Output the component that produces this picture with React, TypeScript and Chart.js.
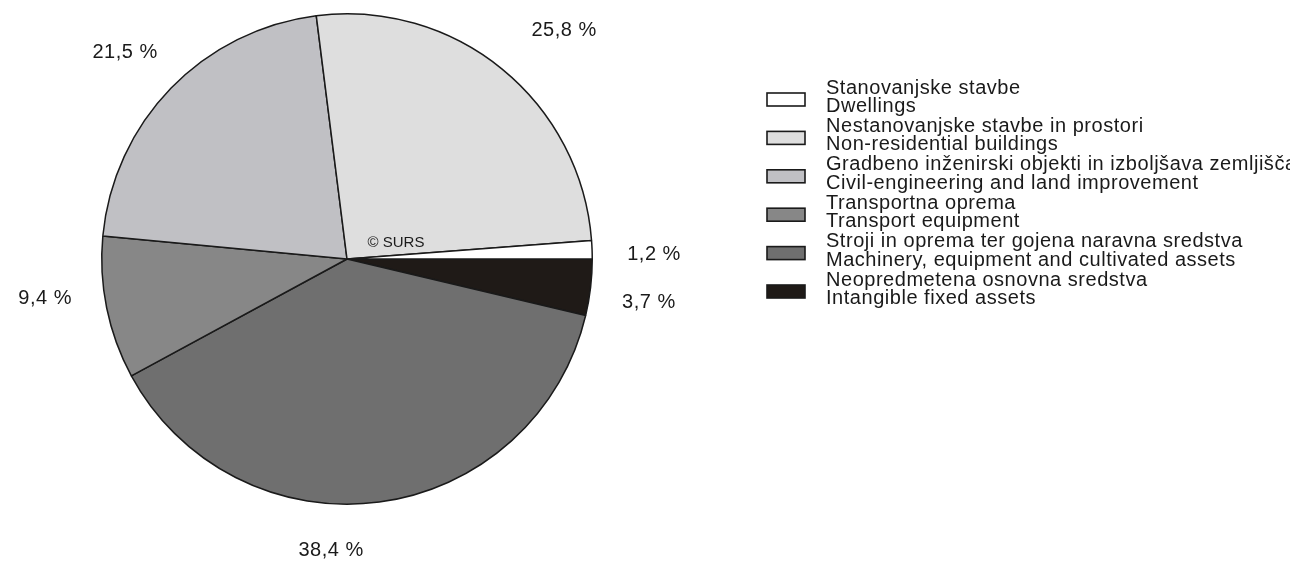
import React, { useEffect, useRef } from "react";
import { Chart, registerables } from "chart.js";

Chart.register(...registerables);

// Data (legend order)
const categoriesSl = [
  "Stanovanjske stavbe",
  "Nestanovanjske stavbe in prostori",
  "Gradbeno inženirski objekti in izboljšava zemljišča",
  "Transportna oprema",
  "Stroji in oprema ter gojena naravna sredstva",
  "Neopredmetena osnovna sredstva",
];
const categoriesEn = [
  "Dwellings",
  "Non-residential buildings",
  "Civil-engineering and land improvement",
  "Transport equipment",
  "Machinery, equipment and cultivated assets",
  "Intangible fixed assets",
];
const shares = [1.2, 25.8, 21.5, 9.4, 38.4, 3.7];
const shareLabels = ["1,2 %", "25,8 %", "21,5 %", "9,4 %", "38,4 %", "3,7 %"];

// Styles
const colors = ["#ffffff", "#dedede", "#c0c0c4", "#878787", "#6f6f6f", "#1f1a17"];
// label offsets relative to pie centre, in units of radius
const labelOffsets: [number, number][] = [
  [1.252, -0.02],
  [0.885, -0.93],
  [-0.905, -0.844],
  [-1.231, 0.163],
  [-0.065, 1.19],
  [1.231, 0.179],
];

const FONT = "Liberation Sans, Arial, Helvetica, sans-serif";

export default function App() {
  const ref = useRef<HTMLCanvasElement | null>(null);

  useEffect(() => {
    document.body.style.margin = "0";
    const canvas = ref.current!;
    // Chart.js draws clockwise from east: reverse legend order
    const order = [5, 4, 3, 2, 1, 0];
    const overlay = {
      id: "overlay",
      afterDraw(chart: any) {
        const ctx = chart.ctx as any;
        const meta = chart.getDatasetMeta(0);
        const arc0 = meta.data[0] as any;
        const cx = arc0.x;
        const cy = arc0.y;
        const r = arc0.outerRadius;
        ctx.save();
        ctx.fillStyle = "#1a1a1a";
        ctx.textBaseline = "middle";
        ctx.textAlign = "center";
        ctx.letterSpacing = "0.5px";
        ctx.font = `20px ${FONT}`;
        order.forEach((src) => {
          const [ox, oy] = labelOffsets[src];
          ctx.fillText(shareLabels[src], cx + ox * r, cy + oy * r);
        });
        ctx.letterSpacing = "0px";
        ctx.font = `15px ${FONT}`;
        ctx.fillText("© SURS", cx + 49, cy - 16);

        // legend
        const lx = 767;
        const tx = 826;
        const top = 88;
        const step = 38.4;
        ctx.textAlign = "left";
        ctx.letterSpacing = "0.53px";
        ctx.font = `20px ${FONT}`;
        for (let i = 0; i < categoriesSl.length; i++) {
          const y = top + i * step;
          ctx.fillStyle = colors[i];
          ctx.fillRect(lx, y + 5, 38, 13);
          ctx.strokeStyle = "#1a1a1a";
          ctx.lineWidth = 1.6;
          ctx.strokeRect(lx, y + 5, 38, 13);
          ctx.fillStyle = "#1a1a1a";
          ctx.fillText(categoriesSl[i], tx, y);
          ctx.fillText(categoriesEn[i], tx, y + 18.5);
        }
        ctx.restore();
      },
    };
    const chart = new Chart(canvas, {
      type: "pie",
      data: {
        labels: order.map((i) => categoriesEn[i]),
        datasets: [
          {
            data: order.map((i) => shares[i]),
            backgroundColor: order.map((i) => colors[i]),
            borderColor: "#1a1a1a",
            borderWidth: 1.5,
          },
        ],
      },
      options: {
        animation: false,
        responsive: false,
        rotation: 90,
        layout: { padding: { left: 101, right: 697, top: 13, bottom: 58 } },
        plugins: { legend: { display: false }, tooltip: { enabled: false } },
      },
      plugins: [overlay],
    });
    return () => chart.destroy();
  }, []);

  return (
    <div style={{ width: 1290, height: 563, overflow: "hidden", background: "#fff" }}>
      <canvas ref={ref} width={1290} height={563} style={{ display: "block" }} />
    </div>
  );
}
